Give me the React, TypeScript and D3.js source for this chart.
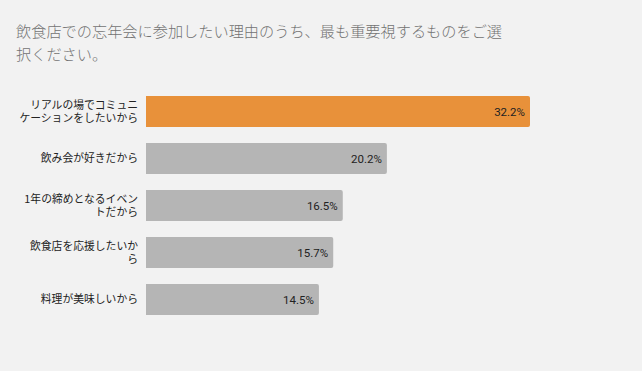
import * as d3 from "d3";

// data
const reasons = [
  ["リアルの場でコミュニ", "ケーションをしたいから"],
  ["飲み会が好きだから"],
  ["1年の締めとなるイベン", "トだから"],
  ["飲食店を応援したいか", "ら"],
  ["料理が美味しいから"],
];
const shares = [32.2, 20.2, 16.5, 15.7, 14.5];
const titleLines = [
  "飲食店での忘年会に参加したい理由のうち、最も重要視するものをご選",
  "択ください。",
];

const width = 642;
const height = 371;
const margin = { top: 88, right: 112, bottom: 48, left: 146 };
const jpFont = "'Noto Sans CJK JP', 'Noto Sans', sans-serif";
const numFont = "Roboto, 'Noto Sans', sans-serif";

export default function App() {
  const idx = d3.range(shares.length);
  const x = d3.scaleLinear().domain([0, 32.2]).range([margin.left, width - margin.right]);
  const y = d3
    .scaleBand<number>()
    .domain(idx)
    .range([margin.top, height - margin.bottom])
    .paddingInner(0.34)
    .paddingOuter(0.17);

  return (
    <div style={{ position: "fixed", left: 0, top: 0 }}>
      <svg width={width} height={height} style={{ display: "block" }}>
        <rect width={width} height={height} fill="#f2f2f2" />
        <text fontSize={15.2} fill="#727272" fontWeight={300} fontFamily={jpFont}>
          {titleLines.map((t, i) => (
            <tspan key={i} x={16} y={37 + i * 23}>
              {t}
            </tspan>
          ))}
        </text>
        {idx.map((i) => {
          const y0 = y(i)!;
          const bw = y.bandwidth();
          const x0 = x(0);
          const x1 = x(shares[i]);
          const r = 2;
          const d = `M${x0},${y0}H${x1 - r}Q${x1},${y0} ${x1},${y0 + r}V${y0 + bw - r}Q${x1},${y0 + bw} ${x1 - r},${y0 + bw}H${x0}Z`;
          const lines = reasons[i];
          const cy = y0 + bw / 2;
          const lh = 12.5;
          return (
            <g key={i}>
              <path d={d} fill={i === 0 ? "#e8913a" : "#b5b5b5"} />
              <text
                x={x1 - 5}
                y={cy}
                dy="0.36em"
                textAnchor="end"
                fontSize={11.5}
                fill="#222"
                fontFamily={numFont}
              >
                {shares[i].toFixed(1)}%
              </text>
              <text textAnchor="end" fontSize={10.8} fill="#222" fontFamily={jpFont}>
                {lines.map((l, j) => (
                  <tspan key={j} x={138} y={cy + (j - (lines.length - 1) / 2) * lh} dy="0.36em">
                    {l}
                  </tspan>
                ))}
              </text>
            </g>
          );
        })}
      </svg>
    </div>
  );
}
